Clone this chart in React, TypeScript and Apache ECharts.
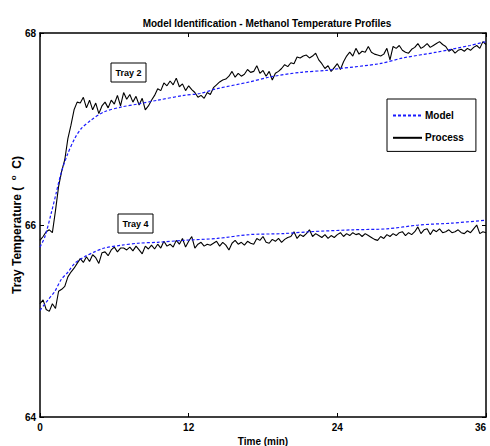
import React, { useEffect, useRef } from "react";
import * as echarts from "echarts";

const T_END = 36;
const xTicks = { min: 0, max: 36, interval: 12 };
const yTicks = { min: 64, max: 68, interval: 2 };

// Tray 2 process, sampled evenly from t=0 to t=36
const tray2Process = [
  65.84, 65.88, 65.93, 65.95, 65.92, 66.15, 66.4, 66.56, 66.68, 66.9, 67.04, 67.2, 67.28,
  67.27, 67.33, 67.22, 67.3, 67.2, 67.27, 67.16, 67.24, 67.28, 67.22, 67.3, 67.26, 67.35,
  67.24, 67.38, 67.31, 67.36, 67.28, 67.34, 67.25, 67.32, 67.2, 67.24, 67.3, 67.35, 67.42,
  67.4, 67.48, 67.45, 67.5, 67.46, 67.53, 67.44, 67.47, 67.4, 67.45, 67.41, 67.38, 67.33,
  67.35, 67.32, 67.38, 67.36, 67.43, 67.46, 67.49, 67.51, 67.52, 67.55, 67.6, 67.54, 67.58,
  67.55, 67.57, 67.62, 67.59, 67.6, 67.66, 67.58, 67.61, 67.55, 67.6, 67.51, 67.58, 67.6,
  67.63, 67.67, 67.65, 67.69, 67.68, 67.75, 67.74, 67.76, 67.77, 67.74, 67.76, 67.79, 67.72,
  67.68, 67.63, 67.66, 67.6, 67.64, 67.68, 67.62, 67.7, 67.76, 67.8, 67.76, 67.84, 67.78,
  67.81, 67.8, 67.86, 67.8, 67.78, 67.77, 67.76, 67.78, 67.84, 67.72, 67.86, 67.84, 67.87,
  67.82, 67.8, 67.79, 67.83, 67.85, 67.89, 67.84, 67.86, 67.89, 67.85, 67.87, 67.89, 67.91,
  67.88, 67.86, 67.81, 67.83, 67.79, 67.82, 67.83, 67.81, 67.84, 67.82, 67.85, 67.87, 67.84,
  67.91, 67.88,
];

// Tray 2 model [time, temperature]
const tray2Model = [
  [0, 65.77], [0.4, 65.88], [0.9, 66.12], [1.3, 66.33], [1.7, 66.54], [2.2, 66.73],
  [2.8, 66.9], [3.3, 67.0], [4.1, 67.09], [5.2, 67.18], [6.6, 67.23], [7.9, 67.26],
  [9.5, 67.3], [11.6, 67.35], [12.9, 67.37], [14.3, 67.42], [16.9, 67.49], [18.5, 67.54],
  [21, 67.59], [23.1, 67.61], [24.2, 67.63], [27.4, 67.68], [29.3, 67.74], [32, 67.8],
  [34.7, 67.87], [36, 67.91],
];

// Tray 4 process, sampled evenly from t=0 to t=36
const tray4Process = [
  65.18, 65.22, 65.12, 65.1, 65.18, 65.13, 65.31, 65.33, 65.36, 65.46, 65.51, 65.55, 65.6,
  65.65, 65.61, 65.67, 65.62, 65.69, 65.66, 65.6, 65.71, 65.72, 65.68, 65.74, 65.77, 65.72,
  65.76, 65.76, 65.74, 65.77, 65.73, 65.78, 65.74, 65.7, 65.78, 65.75, 65.79, 65.75, 65.8,
  65.76, 65.83, 65.78, 65.8, 65.77, 65.84, 65.8, 65.86, 65.77, 65.83, 65.88, 65.76, 65.8,
  65.82, 65.78, 65.8, 65.79, 65.81, 65.83, 65.78, 65.82, 65.79, 65.74, 65.81, 65.84, 65.8,
  65.82, 65.79, 65.83, 65.81, 65.8, 65.86, 65.84, 65.88, 65.82, 65.81, 65.85, 65.83, 65.86,
  65.82, 65.85, 65.87, 65.88, 65.93, 65.86, 65.9, 65.88, 65.91, 65.95, 65.88, 65.91, 65.89,
  65.87, 65.9, 65.86, 65.89, 65.87, 65.9, 65.92, 65.88, 65.91, 65.89, 65.92, 65.9, 65.91,
  65.88, 65.91, 65.89, 65.87, 65.85, 65.84, 65.88, 65.86, 65.9, 65.88, 65.91, 65.89, 65.92,
  65.93, 65.89, 65.92, 65.9, 65.93, 65.98, 65.91, 65.95, 65.96, 65.9, 65.95, 65.93, 65.96,
  65.92, 65.93, 65.95, 65.92, 65.93, 65.95, 65.92, 65.91, 65.94, 65.92, 65.96, 66.0, 65.91,
  65.93, 65.92,
];

// Tray 4 model [time, temperature]
const tray4Model = [
  [0, 65.11], [0.65, 65.22], [1.2, 65.31], [1.7, 65.43], [2.26, 65.51], [2.8, 65.6],
  [3.6, 65.67], [4.4, 65.72], [5.2, 65.76], [6.6, 65.79], [7.9, 65.81], [9.5, 65.82],
  [11.6, 65.84], [14.3, 65.86], [16.9, 65.9], [19.6, 65.91], [21.8, 65.93], [25.3, 65.95],
  [28, 65.96], [30.6, 66.0], [33.3, 66.02], [36, 66.05],
];

const TITLE = "Model Identification - Methanol Temperature Profiles";
const X_NAME = "Time (min)";
const LEGEND = ["Model", "Process"];
const TRAY_LABELS = ["Tray 2", "Tray 4"];

const FONT = "'Liberation Sans', Arial, Helvetica, sans-serif";

function toPairs(vals: number[]) {
  const n = vals.length;
  return vals.map((v, i) => [(i * T_END) / (n - 1), v]);
}

export default function App() {
  const ref = useRef<HTMLDivElement>(null);
  useEffect(() => {
    if (!ref.current) return;
    const chart = echarts.init(ref.current, undefined, { renderer: "svg" });
    const axisLine = { show: true, onZero: false, lineStyle: { color: "#000", width: 1.5 } };
    const axisTick = { show: true, inside: true, length: 4, lineStyle: { color: "#000", width: 1 } };
    const label = { color: "#000", fontWeight: "bold" as const, fontSize: 10, fontFamily: FONT };
    const modelStyle = { color: "#1a1aff", width: 1.2, type: [3, 2] as any };
    const procStyle = { color: "#000", width: 1.1 };
    const trayBox = (x: number, y: number, text: string) => ({
      type: "group",
      x,
      y,
      children: [
        { type: "rect", shape: { x: 0, y: 0, width: 35, height: 19 }, style: { fill: "#fff", stroke: "#000", lineWidth: 1 } },
        {
          type: "text",
          x: 17.5,
          y: 10,
          style: { text, fill: "#000", font: `bold 9px ${FONT}`, align: "center", verticalAlign: "middle" },
        },
      ],
    });
    chart.setOption({
      animation: false,
      backgroundColor: "#fff",
      title: {
        text: TITLE,
        left: 262,
        textAlign: "center",
        top: 13,
        textStyle: { fontSize: 10, fontWeight: "bold", color: "#000", fontFamily: FONT },
      },
      grid: { left: 40, right: 4, top: 33, bottom: 29, outerBoundsMode: "none", containLabel: false },
      legend: {
        data: LEGEND,
        orient: "vertical",
        left: 387,
        top: 99,
        padding: [11, 12, 8, 5],
        itemGap: 11,
        itemWidth: 29,
        itemHeight: 14,
        borderColor: "#000",
        borderWidth: 1,
        backgroundColor: "#fff",
        selectedMode: false,
        itemStyle: { color: "rgba(0,0,0,0)", borderColor: "rgba(0,0,0,0)", borderWidth: 0 },
        textStyle: { ...label, fontSize: 10, padding: [0, 0, 0, -2] },
      },
      xAxis: [
        {
          type: "value",
          ...xTicks,
          position: "bottom",
          axisLine,
          axisTick,
          splitLine: { show: false },
          axisLabel: { ...label, margin: 5, alignMaxLabel: "right" },
          name: X_NAME,
          nameLocation: "middle",
          nameGap: 19,
          nameMoveOverlap: false,
          nameTextStyle: { ...label },
        },
        {
          type: "value",
          ...xTicks,
          position: "top",
          axisLine,
          axisTick,
          splitLine: { show: false },
          axisLabel: { show: false },
        },
      ],
      yAxis: [
        {
          type: "value",
          ...yTicks,
          position: "left",
          axisLine,
          axisTick,
          splitLine: { show: false },
          axisLabel: { ...label, margin: 4 },
          name: "Tray Temperature (  {s|o}  C)",
          nameLocation: "middle",
          nameGap: 16,
          nameMoveOverlap: false,
          nameTextStyle: {
            ...label,
            fontSize: 12,
            rich: { s: { fontSize: 8, fontWeight: "bold", fontFamily: FONT, color: "#000", padding: [0, 0, 7, 0] } },
          },
        },
        {
          type: "value",
          ...yTicks,
          position: "right",
          axisLine,
          axisTick,
          splitLine: { show: false },
          axisLabel: { show: false },
        },
      ],
      series: [
        { name: "Model", type: "line", data: tray2Model, showSymbol: false, symbol: "none", smooth: 0.3, lineStyle: modelStyle, itemStyle: { color: modelStyle.color }, z: 3 },
        { name: "Process", type: "line", data: toPairs(tray2Process), showSymbol: false, symbol: "none", lineStyle: procStyle, itemStyle: { color: "#000" }, z: 2 },
        { name: "Model", type: "line", data: tray4Model, showSymbol: false, symbol: "none", smooth: 0.3, lineStyle: modelStyle, itemStyle: { color: modelStyle.color }, z: 3 },
        { name: "Process", type: "line", data: toPairs(tray4Process), showSymbol: false, symbol: "none", lineStyle: procStyle, itemStyle: { color: "#000" }, z: 2 },
      ],
      graphic: [trayBox(111, 63, TRAY_LABELS[0]), trayBox(118, 214, TRAY_LABELS[1])],
    });
    return () => chart.dispose();
  }, []);
  return <div ref={ref} style={{ position: "fixed", left: 0, top: 0, width: 490, height: 446 }} />;
}
